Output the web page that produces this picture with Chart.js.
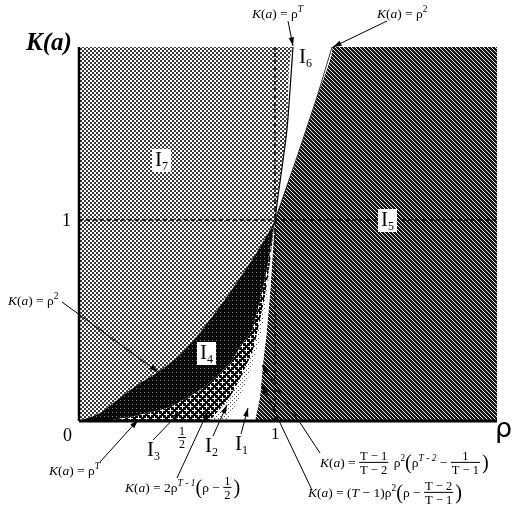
<!DOCTYPE html>
<html>
<head>
<meta charset="utf-8">
<script src="https://cdn.jsdelivr.net/npm/chart.js@4.4.0/dist/chart.umd.min.js"></script>
<style>
  html, body { margin: 0; padding: 0; background: #fff; }
</style>
</head>
<body>
<canvas id="chart" width="513" height="515"></canvas>
<script>
// axis extent (rho, K)
const X_MAX = 2.133;
const Y_MAX = 1.861;

// boundary curves (rho, K)
// A: K = rho^2 below 1 (I7 | I4)
const rhoA = [0, 0.107, 0.2, 0.311, 0.403, 0.515, 0.617, 0.770, 0.898, 0.974, 1];
const kA   = [0, 0.04, 0.11, 0.189, 0.244, 0.33, 0.44, 0.64, 0.826, 0.95, 1];
// B: K = rho^T below 1 (I4 | I3)
const rhoB = [0.12, 0.26, 0.464, 0.633, 0.770, 0.837, 0.883, 0.939, 0.974, 1];
const kB   = [0, 0.02, 0.07, 0.164, 0.289, 0.388, 0.453, 0.66, 0.84, 1];
// C: K = 2 rho^(T-1) (rho - 1/2) (I3 | I2)
const rhoC = [0.668, 0.770, 0.837, 0.888, 0.913, 0.949, 0.974, 1];
const kC   = [0, 0.119, 0.239, 0.353, 0.453, 0.62, 0.78, 1];
// D: K = (T-1)/(T-2) rho^2 (rho^(T-2) - 1/(T-1)) (I2 | I1)
const rhoD = [0.755, 0.821, 0.872, 0.908, 0.934, 0.964, 1];
const kD   = [0, 0.119, 0.239, 0.353, 0.453, 0.66, 1];
// E: K = (T-1) rho^2 (rho - (T-2)/(T-1)) (I1 | I5)
const rhoE = [0.898, 0.923, 0.939, 0.959, 0.980, 1];
const kE   = [0, 0.119, 0.289, 0.453, 0.70, 1];
// F: K = rho^T above 1 (I7 | I6)
const rhoF = [1, 1.015, 1.061, 1.092];
const kF   = [1, 1.114, 1.448, 1.861];
// G: K = rho^2 above 1 (I6 | I5)
const rhoG = [1, 1.041, 1.112, 1.214, 1.291];
const kG   = [1, 1.114, 1.313, 1.612, 1.861];

const pts = (r, k) => r.map((v, i) => ({ x: v, y: k[i] }));
const rev = a => a.slice().reverse();

function makePattern(size, bg, fg, cells) {
  const c = document.createElement('canvas');
  c.width = size; c.height = size;
  const g = c.getContext('2d');
  g.fillStyle = bg; g.fillRect(0, 0, size, size);
  g.fillStyle = fg;
  cells.forEach(p => g.fillRect(p[0], p[1], p[2] || 1, p[3] || 1));
  return document.getElementById('chart').getContext('2d').createPattern(c, 'repeat');
}

function plus(cx, cy, arm) {
  const out = [];
  for (let d = -arm; d <= arm; d++) {
    out.push([cx + d, cy]);
    if (d !== 0) out.push([cx, cy + d]);
  }
  return out;
}

const patI7 = makePattern(4, '#fff', '#3a3a3a', [[0, 0, 2, 2], [2, 2, 2, 2]]);
const patI2 = makePattern(4, '#fff', '#555', [[0, 0], [2, 2]]);
const patI4 = makePattern(4, '#0a0a0a', '#888', [[0, 0]]);
const patI3 = makePattern(8, '#0a0a0a', '#fff', plus(2, 2, 2).concat(plus(6, 6, 1), [[6, 4], [6, 8 % 8], [4, 6], [0, 6]]));
const patI5 = makePattern(4, '#161616', '#e8e8e8', [[0, 0], [1, 1], [2, 2], [3, 3]]);

function region(label, data, fill) {
  return { label, data, showLine: true, fill: 'shape', backgroundColor: fill,
           borderWidth: 0, borderColor: 'rgba(0,0,0,0)', pointRadius: 0, tension: 0.2 };
}
function line(label, data, width, dash, clip) {
  return { label, data, showLine: true, fill: false, borderColor: '#000', borderWidth: width,
           borderDash: dash || [], pointRadius: 0, tension: 0.2, clip: clip === undefined ? 1 : clip };
}

const layers = [
  region('I7', pts(rhoA, kA).concat(pts(rhoF, kF), [{ x: 0, y: Y_MAX }]), patI7),
  region('I5', pts(rhoE, kE).concat(pts(rhoG, kG).slice(1), [{ x: X_MAX, y: Y_MAX }, { x: X_MAX, y: 0 }]), patI5),
  region('I6', pts(rhoF, kF).concat(rev(pts(rhoG, kG))), '#fff'),
  region('I4', pts(rhoA, kA).concat(rev(pts(rhoB, kB))), patI4),
  region('I3', pts(rhoB, kB).concat(rev(pts(rhoC, kC))), patI3),
  region('I2', pts(rhoC, kC).concat(rev(pts(rhoD, kD))), patI2),
  region('I1', pts(rhoD, kD).concat(rev(pts(rhoE, kE))), '#fff'),
  line('rhoT top', pts(rhoF, kF), 1.2),
  line('rho2 top', pts(rhoG, kG), 0.8),
  line('K=1', [{ x: 0, y: 1 }, { x: X_MAX, y: 1 }], 1.5, [4, 3]),
  line('rho=1', [{ x: 1, y: 0 }, { x: 1, y: Y_MAX }], 1.5, [4, 3]),
  line('y axis', [{ x: 0, y: 0 }, { x: 0, y: Y_MAX }], 2.5, [], false),
  line('x axis', [{ x: 0, y: 0 }, { x: X_MAX, y: 0 }], 3, [], false)
];

// ---- text helpers ----
const SERIF = '"Liberation Serif", "DejaVu Serif", serif';

function rich(ctx, x, y, parts, size) {
  ctx.textBaseline = 'alphabetic';
  ctx.textAlign = 'left';
  ctx.fillStyle = '#000';
  parts.forEach(p => {
    if (typeof p === 'string') p = { t: p };
    if (p.frac) {
      ctx.font = (size - 1) + 'px ' + SERIF;
      const w = Math.max(ctx.measureText(p.frac[0]).width, ctx.measureText(p.frac[1]).width);
      ctx.textAlign = 'center';
      ctx.fillText(p.frac[0], x + w / 2 + 1, y - size * 0.55);
      ctx.fillText(p.frac[1], x + w / 2 + 1, y + size * 0.55);
      ctx.fillRect(x, y - size * 0.38, w + 2, 1);
      ctx.textAlign = 'left';
      x += w + 4;
      return;
    }
    let s = size, dy = 0;
    if (p.sup) { s = size * 0.7; dy = -size * 0.42; }
    if (p.big) { s = size * 1.5; dy = size * 0.15; }
    ctx.font = (p.i ? 'italic ' : '') + s + 'px ' + SERIF;
    ctx.fillText(p.t, x, y + dy);
    x += ctx.measureText(p.t).width;
  });
}

function arrow(ctx, x1, y1, x2, y2, head) {
  ctx.strokeStyle = '#000';
  ctx.lineWidth = 1;
  ctx.beginPath(); ctx.moveTo(x1, y1); ctx.lineTo(x2, y2); ctx.stroke();
  if (!head) return;
  const a = Math.atan2(y2 - y1, x2 - x1), L = 9, w = 0.3;
  ctx.fillStyle = '#000';
  ctx.beginPath();
  ctx.moveTo(x2, y2);
  ctx.lineTo(x2 - L * Math.cos(a - w), y2 - L * Math.sin(a - w));
  ctx.lineTo(x2 - L * Math.cos(a + w), y2 - L * Math.sin(a + w));
  ctx.closePath(); ctx.fill();
}

function regionLabel(ctx, x, y, n, box) {
  ctx.font = '21px ' + SERIF;
  const wI = ctx.measureText('I').width;
  ctx.font = '12px ' + SERIF;
  const wn = ctx.measureText(n).width;
  if (box) {
    ctx.fillStyle = '#fff';
    ctx.fillRect(x - 3, y - 17, wI + wn + 6, 23);
  }
  ctx.fillStyle = '#000';
  ctx.font = '21px ' + SERIF;
  ctx.fillText('I', x, y);
  ctx.font = '12px ' + SERIF;
  ctx.fillText(n, x + wI, y + 4);
}

const KA = [{ t: 'K', i: true }, '(', { t: 'a', i: true }, ') = '];

const annotations = {
  id: 'annotations',
  afterDraw(chart) {
    const ctx = chart.ctx;
    ctx.save();
    // axis titles
    ctx.fillStyle = '#000';
    ctx.font = 'bold italic 25px ' + SERIF;
    ctx.fillText('K(a)', 26, 50);
    ctx.font = '27px "DejaVu Sans", sans-serif';
    ctx.fillText('ρ', 495, 437);
    // ticks
    ctx.font = '18px ' + SERIF;
    ctx.fillText('0', 63, 441);
    ctx.fillText('1', 62, 226);
    ctx.font = '17px ' + SERIF;
    ctx.fillText('1', 271, 439);
    ctx.font = '12px ' + SERIF;
    ctx.textAlign = 'center';
    ctx.fillText('1', 182, 435);
    ctx.fillRect(178, 437, 8, 1);
    ctx.fillText('2', 182, 448);
    ctx.textAlign = 'left';

    // region labels
    regionLabel(ctx, 155, 166, '7', true);
    regionLabel(ctx, 381, 226, '5', true);
    regionLabel(ctx, 200, 359, '4', true);
    regionLabel(ctx, 299, 63, '6', false);
    regionLabel(ctx, 147, 456, '3', false);
    regionLabel(ctx, 205, 452, '2', false);
    regionLabel(ctx, 235, 450, '1', false);

    // equations
    const fs = 13.5;
    rich(ctx, 252, 18, KA.concat(['ρ', { t: 'T', i: true, sup: true }]), fs);
    rich(ctx, 377, 18, KA.concat(['ρ', { t: '2', sup: true }]), fs);
    rich(ctx, 8, 305, KA.concat(['ρ', { t: '2', sup: true }]), fs);
    rich(ctx, 49, 475, KA.concat(['ρ', { t: 'T', i: true, sup: true }]), fs);
    rich(ctx, 125, 492, KA.concat(['2ρ', { t: 'T - 1', i: true, sup: true }, { t: '(', big: true }, 'ρ − ', { frac: ['1', '2'] }, { t: ')', big: true }]), fs);
    rich(ctx, 320, 467, KA.concat([{ frac: ['T − 1', 'T − 2'] }, ' ρ', { t: '2', sup: true }, { t: '(', big: true }, 'ρ', { t: 'T - 2', i: true, sup: true }, ' − ', { frac: ['1', 'T − 1'] }, { t: ')', big: true }]), fs);
    rich(ctx, 308, 497, KA.concat(['(', { t: 'T', i: true }, ' − 1)ρ', { t: '2', sup: true }, { t: '(', big: true }, 'ρ − ', { frac: ['T − 2', 'T − 1'] }, { t: ')', big: true }]), fs);

    // leader lines
    arrow(ctx, 288, 21, 293, 46, true);
    arrow(ctx, 387, 21, 333, 47, true);
    arrow(ctx, 62, 302, 158, 372, true);
    arrow(ctx, 100, 462, 138, 420, true);
    arrow(ctx, 153, 440, 181, 411, true);
    arrow(ctx, 177, 478, 208, 411, true);
    arrow(ctx, 213, 436, 227, 405, true);
    arrow(ctx, 241, 434, 248, 408, true);
    arrow(ctx, 320, 453, 262, 365, true);
    arrow(ctx, 312, 490, 262, 385, true);
    ctx.restore();
  }
};

new Chart(document.getElementById('chart'), {
  type: 'scatter',
  data: { datasets: layers.reverse() },
  options: {
    responsive: false,
    animation: false,
    layout: { padding: { left: 79, right: 16, top: 47, bottom: 94 } },
    scales: {
      x: { type: 'linear', min: 0, max: X_MAX, display: false },
      y: { type: 'linear', min: 0, max: Y_MAX, display: false }
    },
    plugins: { legend: { display: false }, tooltip: { enabled: false } }
  },
  plugins: [annotations]
});
</script>
</body>
</html>
